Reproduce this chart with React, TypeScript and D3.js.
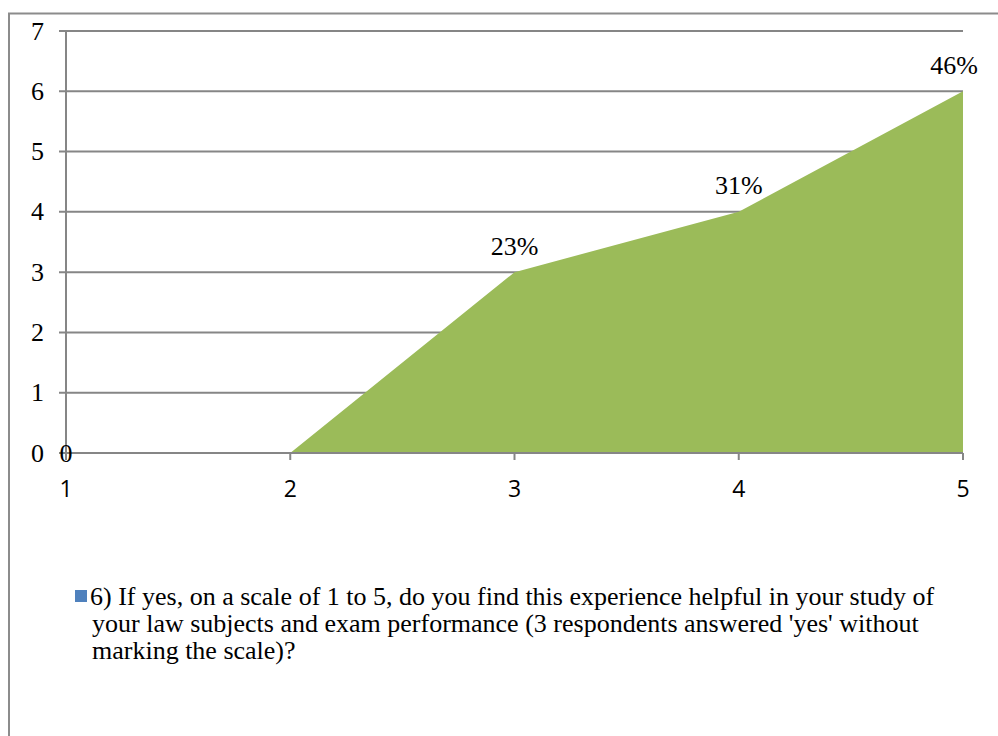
import React from "react";
import * as d3 from "d3";

const categories = [1, 2, 3, 4, 5];
const values = [0, 0, 3, 4, 6];
const dataLabels = ["0", "", "23%", "31%", "46%"];
const yTicks = [0, 1, 2, 3, 4, 5, 6, 7];
const legendLines = [
  "6) If yes, on a scale of 1 to 5, do you find this experience helpful in your study of",
  "your law subjects and exam performance (3 respondents answered 'yes' without",
  "marking the scale)?",
];

const W = 998;
const H = 736;
const SERIF = "Liberation Serif, Times New Roman, serif";

export default function App() {
  const x = d3.scaleLinear().domain([1, 5]).range([66, 963]);
  const y = d3.scaleLinear().domain([0, 7]).range([453, 31]);
  const area = d3
    .area<number>()
    .x((_, i) => x(categories[i]))
    .y0(y(0))
    .y1((d) => y(d));
  const grid = "#868686";
  return (
    <svg
      width={W}
      height={H}
      style={{ position: "absolute", left: 0, top: 0 }}
    >
      <rect x={0} y={0} width={W} height={H} fill="#fff" />
      {/* outer frame */}
      <path d={`M9,${H} L9,13.5 L${W},13.5`} fill="none" stroke="#8c8c8c" strokeWidth={2} />
      {/* gridlines */}
      {yTicks.map((t) => (
        <g key={t}>
          <line x1={59} x2={x(5)} y1={y(t)} y2={y(t)} stroke={grid} strokeWidth={2} />
          <text
            x={44}
            y={y(t)}
            textAnchor="end"
            dominantBaseline="central"
            fontFamily={SERIF}
            fontSize={26}
            fill="#000"
          >
            {t}
          </text>
        </g>
      ))}
      <path d={area(values) || ""} fill="#9BBB59" />
      {/* axes */}
      <line x1={x(1)} x2={x(1)} y1={y(7)} y2={y(0)} stroke={grid} strokeWidth={2} />
      <line x1={x(1)} x2={x(5)} y1={y(0)} y2={y(0)} stroke={grid} strokeWidth={2} />
      {categories.map((c) => (
        <g key={c}>
          <line x1={x(c)} x2={x(c)} y1={y(0)} y2={y(0) + 7} stroke={grid} strokeWidth={2} />
          <text
            x={x(c)}
            y={488}
            textAnchor="middle"
            dominantBaseline="central"
            fontFamily="Open Sans, Liberation Sans, sans-serif"
            fontSize={23}
            fill="#000"
          >
            {c}
          </text>
        </g>
      ))}
      {/* data labels */}
      {values.map((v, i) => {
        const lab = dataLabels[i];
        if (!lab) return null;
        const isZero = v === 0;
        const lx = i === values.length - 1 ? x(categories[i]) - 9 : x(categories[i]);
        return (
          <text
            key={i}
            x={lx}
            y={isZero ? y(v) : y(v) - 26}
            textAnchor="middle"
            dominantBaseline="central"
            fontFamily={SERIF}
            fontSize={26}
            fill="#000"
          >
            {lab}
          </text>
        );
      })}
      {/* legend */}
      <rect x={75} y={590} width={12} height={12} fill="#4F81BD" />
      <text fontFamily={SERIF} fontSize={26} fill="#000">
        {legendLines.map((l, i) => (
          <tspan key={i} x={i === 0 ? 90 : 92} y={605 + i * 27}>
            {l}
          </tspan>
        ))}
      </text>
    </svg>
  );
}
